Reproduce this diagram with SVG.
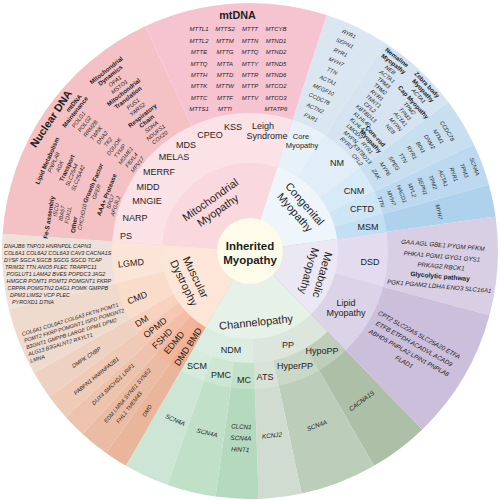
<svg xmlns="http://www.w3.org/2000/svg" width="500" height="500" viewBox="0 0 500 500">
<style>
text{font-family:'Liberation Sans',Arial,Helvetica,sans-serif;fill:#1e1e1e}
.g{font-style:italic;font-size:5.6px;text-anchor:middle}
.gc{font-style:italic;font-size:6.3px;text-anchor:middle}
.gs{font-style:italic;font-size:5.4px}
.gm{font-style:italic;font-size:6px;text-anchor:middle}
.gl{font-style:italic;font-size:6.2px;text-anchor:middle}
.h{font-weight:bold;font-size:6.2px;text-anchor:middle}
.s{font-size:9px;text-anchor:middle}
.s2{font-size:7.5px;text-anchor:middle}
.c{font-size:11px;text-anchor:middle}
.t{font-size:11.5px;font-weight:bold;text-anchor:middle}
.big{font-size:10.8px;font-weight:bold;text-anchor:middle}
</style>

<g id="muscular-dystrophy">
<path d="M250,251L126,465.8A248,248 0 0 1 106,452.9Z" fill="#e9b59b"/>
<path d="M250,251L106,452.9A248,248 0 0 1 82.5,433.9Z" fill="#ebbca4"/>
<path d="M250,251L82.5,433.9A248,248 0 0 1 65.7,416.9Z" fill="#edc3ad"/>
<path d="M250,251L65.7,416.9A248,248 0 0 1 49.4,396.8Z" fill="#eecab7"/>
<path d="M250,251L49.4,396.8A248,248 0 0 1 34.1,373.1Z" fill="#efd1c1"/>
<path d="M250,251L34.1,373.1A248,248 0 0 1 8.8,308.9Z" fill="#efdace"/>
<path d="M250,251L8.8,308.9A248,248 0 0 1 2.6,233.7Z" fill="#eee1d9"/>
<path d="M250,251L181,370.5A138,138 0 0 1 169.9,363.3Z" fill="#f0ad8f"/>
<path d="M250,251L169.9,363.3A138,138 0 0 1 156.8,352.7Z" fill="#f2b599"/>
<path d="M250,251L156.8,352.7A138,138 0 0 1 147.5,343.3Z" fill="#f4bea6"/>
<path d="M250,251L147.5,343.3A138,138 0 0 1 138.4,332.1Z" fill="#f6c8b2"/>
<path d="M250,251L138.4,332.1A138,138 0 0 1 129.9,319Z" fill="#f8d2bf"/>
<path d="M250,251L129.9,319A138,138 0 0 1 115.8,283.2Z" fill="#fadccb"/>
<path d="M250,251L115.8,283.2A138,138 0 0 1 112.3,241.4Z" fill="#fbe5d7"/>
<path d="M250,251L206,327.2A88,88 0 0 1 162.2,244.9Z" fill="#fde6d8"/>
<g class="s">
<text transform="rotate(-5.8 250 251)" x="130.4" y="254">LGMD</text>
<text transform="rotate(-22.6 250 251)" x="128" y="254">CMD</text>
<text transform="rotate(-33 250 251)" x="121" y="254">DM</text>
<text transform="rotate(-39 250 251)" x="128" y="254">OPMD</text>
<text transform="rotate(-45 250 251)" x="126" y="254">FSHD</text>
<text transform="rotate(-50.4 250 251)" x="131" y="254">EDMD</text>
<text transform="rotate(-57.1 250 251)" x="136" y="254">DMD BMD</text>
</g>
<g class="g">
<text transform="rotate(-33 250 251)" x="55" y="253">DMPK CNBP</text>
<text transform="rotate(-39.1 250 251)" x="52" y="253">PABPN1 HNRNPA2B1</text>
<text transform="rotate(-44.2 250 251)" x="59" y="253">DUX4 SMCHD1 LRIF1</text>
<text transform="rotate(-49.7 250 251)" x="60.3" y="253">EDM LMNA SYNE1 SYNE2</text>
<text transform="rotate(-52.3 250 251)" x="52.3" y="253">FHL1 TMEM43</text>
<text transform="rotate(-57.2 250 251)" x="60" y="253">DMD</text>
</g>
<g class="gs">
<text x="4" y="248.3">DNAJB6 TNPO3 HNRNPDL CAPN3</text>
<text x="4" y="255.2">COL6A1 COL6A2 COL6A3 CAV3 CACNA1S</text>
<text x="4" y="262.1">DYSF SGCA SGCB SGCG SGCD TCAP</text>
<text x="5" y="269">TRIM32 TTN ANO5 PLEC TRAPPC11</text>
<text x="6.5" y="275.9">POGLUT1 LAMA2 BVES POPDC3 JAG2</text>
<text x="6.5" y="282.8">HMGCR POMT1 POMT2 POMGNT1 FKRP</text>
<text x="7.5" y="289.7">CRPPA POMGTN2 DAG1 POMK GMPPB</text>
<text x="10" y="296.6">DPM3 LIMS2 VCP PLEC</text>
<text x="12" y="303.5">PYROXD1 DTNA</text>
</g>
<g class="gs" transform="translate(22,334) rotate(-17)">
<text x="0" y="2">COL6A1 COL6A2 COL6A3 FKTN POMT1</text>
<text x="0" y="9">POMT2 FKRP POMGNT1 ISPD POMGNT2</text>
<text x="0" y="16">B3GNT1 GMPPB LARGE DPM1 DPM2</text>
<text x="0" y="23">ALG13 B3GALNT2 RXYLT1</text>
<text x="0" y="30">LMNA</text>
</g>
<g class="c" transform="translate(190,280) rotate(64)">
<text x="0" y="-2.5">Muscular</text>
<text x="0" y="10.5">Dystrophy</text>
</g>
</g>

<g id="channelopathy">
<path d="M250,251L422.3,429.4A248,248 0 0 1 374,465.8Z" fill="#aebfa8"/>
<path d="M250,251L374,465.8A248,248 0 0 1 301.6,493.6Z" fill="#bccdb9"/>
<path d="M250,251L301.6,493.6A248,248 0 0 1 258.7,498.9Z" fill="#cfdccf"/>
<path d="M250,251L258.7,498.9A248,248 0 0 1 215.5,496.6Z" fill="#b4d9bc"/>
<path d="M250,251L215.5,496.6A248,248 0 0 1 167.2,484.8Z" fill="#c1e0c8"/>
<path d="M250,251L167.2,484.8A248,248 0 0 1 126,465.8Z" fill="#cce5d5"/>
<path d="M250,251L345.9,350.3A138,138 0 0 1 319,370.5Z" fill="#bfcdbb"/>
<path d="M250,251L319,370.5A138,138 0 0 1 278.7,386Z" fill="#cad8c7"/>
<path d="M250,251L278.7,386A138,138 0 0 1 254.8,388.9Z" fill="#d8e2d8"/>
<path d="M250,251L254.8,388.9A138,138 0 0 1 230.8,387.7Z" fill="#c3e1c9"/>
<path d="M250,251L230.8,387.7A138,138 0 0 1 203.9,381.1Z" fill="#cde7d2"/>
<path d="M250,251L203.9,381.1A138,138 0 0 1 181,370.5Z" fill="#d5ebdc"/>
<path d="M250,251L327.8,331.6A112,112 0 0 1 253.9,362.9Z" fill="#dde6dc"/>
<path d="M250,251L253.9,362.9A112,112 0 0 1 194,348Z" fill="#dbece0"/>
<path d="M250,251L311.1,314.3A88,88 0 0 1 206,327.2Z" fill="#e6f1e7"/>
<g class="s">
<text x="231" y="353">NDM</text>
<text x="288" y="348">PP</text>
<text x="322" y="354">HypoPP</text>
<text x="295" y="369">HyperPP</text>
<text x="265" y="380">ATS</text>
<text x="244" y="383">MC</text>
<text x="221" y="378">PMC</text>
<text x="197" y="369">SCM</text>
</g>
<g class="gc">
<text transform="rotate(23.9 250 251)" x="250" y="438">SCN4A</text>
<text transform="rotate(13.3 250 251)" x="250" y="440">SCN4A</text>
<g transform="rotate(2.8 250 251)">
<text x="250" y="429">CLCN1</text>
<text x="250" y="440.5">SCN4A</text>
<text x="250" y="452">HINT1</text>
</g>
<text transform="rotate(-6.8 250 251)" x="250" y="439">KCNJ2</text>
<text transform="rotate(-21 250 251)" x="250" y="440">SCN4A</text>
<text transform="rotate(-36.7 250 251)" x="250" y="440">CACNA1S</text>
</g>
<text class="c" transform="translate(256,322) rotate(-6)" x="0" y="4">Channelopathy</text>
</g>

<g id="metabolic-myopathy">
<path d="M250,251L495.6,216.5A248,248 0 0 1 489.5,315.2Z" fill="#d8cfe5"/>
<path d="M250,251L489.5,315.2A248,248 0 0 1 422.3,429.4Z" fill="#cbbfdb"/>
<path d="M250,251L386.7,231.8A138,138 0 0 1 383.3,286.7Z" fill="#e3dcee"/>
<path d="M250,251L383.3,286.7A138,138 0 0 1 345.9,350.3Z" fill="#dbd3e8"/>
<path d="M250,251L337.1,238.8A88,88 0 0 1 311.1,314.3Z" fill="#ebe7f3"/>
<g class="s">
<text x="370" y="265">DSD</text>
<text x="346" y="306">Lipid</text>
<text x="346" y="316">Myopathy</text>
</g>
<g class="gl" transform="translate(441,266) rotate(5)">
<text x="0" y="-18.8">GAA AGL GBE1 PYGM PFKM</text>
<text x="0" y="-7.5">PHKA1 PGM1 GYG1 GYS1</text>
<text x="0" y="2.5">PRKAG2 RBCK1</text>
<text x="0" y="12.6" style="font-style:normal;font-weight:bold;font-size:6.6px">Glycolytic pathway</text>
<text x="0" y="22.5">PGK1 PGAM2 LDHA ENO3 SLC16A1</text>
</g>
<g class="gl" transform="translate(378,312) rotate(29)">
<text x="47" y="2.2">CPT2 SLC22A5 SLC25A20 ETFA</text>
<text x="47" y="12.5">ETFB ETFDH ACADVL ACAD9</text>
<text x="47" y="22.8">ABHD5 PNPLA2 LPIN1 PNPLA8</text>
<text x="47" y="33.1">FLAD1</text>
</g>
<g class="c" transform="translate(316,273) rotate(106)">
<text x="0" y="-3">Metabolic</text>
<text x="0" y="11">Myopathy</text>
</g>
</g>

<g id="congenital-myopathy">
<path d="M250,251L326.6,15.1A248,248 0 0 1 385.1,43Z" fill="#dbe7f0"/>
<path d="M250,251L385.1,43A248,248 0 0 1 448.1,101.8Z" fill="#d5e4f0"/>
<path d="M250,251L448.1,101.8A248,248 0 0 1 473.8,144.2Z" fill="#c8dff0"/>
<path d="M250,251L473.8,144.2A248,248 0 0 1 489,184.7Z" fill="#bcd9ef"/>
<path d="M250,251L489,184.7A248,248 0 0 1 495.6,216.5Z" fill="#aed2ec"/>
<path d="M250,251L292.6,119.7A138,138 0 0 1 325.2,135.3Z" fill="#e6f1f9"/>
<path d="M250,251L325.2,135.3A138,138 0 0 1 360.2,168Z" fill="#e1eef8"/>
<path d="M250,251L360.2,168A138,138 0 0 1 374.6,191.6Z" fill="#d7eaf7"/>
<path d="M250,251L374.6,191.6A138,138 0 0 1 383,214.1Z" fill="#cde5f5"/>
<path d="M250,251L383,214.1A138,138 0 0 1 386.7,231.8Z" fill="#c2dff3"/>
<path d="M250,251L277.2,167.3A88,88 0 0 1 337.1,238.8Z" fill="#eef6fc"/>
<g class="s2">
<text x="301" y="138.5">Core</text>
<text x="302" y="147.5">Myopathy</text>
</g>
<g class="s">
<text x="337" y="166">NM</text>
<text x="354" y="194">CNM</text>
<text x="362" y="212">CFTD</text>
<text x="368" y="230">MSM</text>
</g>
<g class="g" transform="rotate(24.5 250 251)">
<text x="250" y="14.4">RYR1</text>
<text x="250" y="24.6">SEPN1</text>
<text x="250" y="34.8">RYR1</text>
<text x="250" y="45">MYH7</text>
<text x="250" y="55.2">TTN</text>
<text x="250" y="65.4">ACTA1</text>
<text x="250" y="75.6">MEGF10</text>
<text x="250" y="85.8">CCDC78</text>
<text x="250" y="96">ACTN2</text>
<text x="250" y="106.2">FXR1</text>
</g>
<text class="h" transform="rotate(37.2 250 251)" x="250" y="10.2">Nemaline</text>
<text class="h" transform="rotate(37.5 250 251)" x="250" y="17.2">Myopathy</text>
<g class="g">
<text transform="rotate(37.8 250 251)" x="250" y="24">NEB</text>
<text transform="rotate(38.2 250 251)" x="250" y="31">ACTA1</text>
<text transform="rotate(38.5 250 251)" x="250" y="38">TPM3</text>
<text transform="rotate(38.8 250 251)" x="250" y="45">TPM2</text>
<text transform="rotate(39.2 250 251)" x="250" y="52">RYR1</text>
<text transform="rotate(39.5 250 251)" x="250" y="59">TNNT1</text>
<text transform="rotate(39.8 250 251)" x="250" y="66">CFL2</text>
<text transform="rotate(40.2 250 251)" x="250" y="73">KBTBD13</text>
<text transform="rotate(40.5 250 251)" x="250" y="80">KLHL40</text>
<text transform="rotate(40.8 250 251)" x="250" y="87">KLHL41</text>
<text transform="rotate(41.2 250 251)" x="250" y="94">LMOD3</text>
<text transform="rotate(41.5 250 251)" x="250" y="101">MYPN</text>
<text transform="rotate(41.8 250 251)" x="250" y="108">RYR3</text>
</g>
<text class="h" transform="rotate(46.8 250 251)" x="250" y="10.2">Zebra body</text>
<text class="h" transform="rotate(47.2 250 251)" x="250" y="17.2">Myopathy</text>
<text class="g" transform="rotate(47.4 250 251)" x="250" y="24">ACTA1</text>
<text class="h" transform="rotate(47.7 250 251)" x="250" y="32.2">Cap Myopathy</text>
<g class="g">
<text transform="rotate(48.2 250 251)" x="250" y="39">TPM2</text>
<text transform="rotate(48.5 250 251)" x="250" y="46">TPM3</text>
<text transform="rotate(48.8 250 251)" x="250" y="53">ACTA1</text>
<text transform="rotate(49 250 251)" x="250" y="60">MYPN</text>
<text transform="rotate(49 250 251)" x="250" y="67">NEB</text>
</g>
<text class="h" transform="rotate(47.5 250 251)" x="250" y="83.2">Core-rod</text>
<text class="h" transform="rotate(47.8 250 251)" x="250" y="90.2">Myopathy</text>
<g class="g">
<text transform="rotate(48.6 250 251)" x="250" y="97">RYR1</text>
<text transform="rotate(49.2 250 251)" x="250" y="104.5">KBTBD13</text>
<text transform="rotate(49.6 250 251)" x="250" y="112">CFL2</text>
</g>
<g class="g" transform="rotate(58.7 250 251)">
<text x="250" y="22">CCDC78</text>
<text x="250" y="32.4">MTM1</text>
<text x="250" y="42.8">DNM2</text>
<text x="250" y="53.2">BIN1</text>
<text x="250" y="63.6">RYR1</text>
<text x="250" y="74">TTN</text>
<text x="250" y="84.4">SPEG</text>
<text x="250" y="94.8">MYF6</text>
<text x="250" y="105.2">ZAK</text>
</g>
<g class="g" transform="rotate(69.4 250 251)">
<text x="250" y="13">SCN4A</text>
<text x="250" y="24.1">TPM3</text>
<text x="250" y="35.2">RYR1</text>
<text x="250" y="46.3">ACTA1</text>
<text x="250" y="57.4">TPM2</text>
<text x="250" y="68.6">SEPN1</text>
<text x="250" y="79.7">MYL2</text>
<text x="250" y="90.8">HACD1</text>
<text x="250" y="101.9">MYH7</text>
<text x="250" y="113">TTN</text>
</g>
<text class="g" transform="rotate(78.3 250 251)" x="250" y="60">MYH7</text>
<g class="c" transform="translate(300,208) rotate(49)">
<text x="0" y="-2.5">Congenital</text>
<text x="0" y="10.5">Myopathy</text>
</g>
</g>

<g id="mitochondrial-myopathy">
<path d="M250,251L2.6,233.7A248,248 0 0 1 145.2,26.2Z" fill="#f4c2c4"/>
<path d="M250,251L145.2,26.2A248,248 0 0 1 326.6,15.1Z" fill="#f6c4d0"/>
<path d="M250,251L112.3,241.4A138,138 0 0 1 292.6,119.7Z" fill="#fbe2e7"/>
<path d="M250,251L162.2,244.9A88,88 0 0 1 277.2,167.3Z" fill="#f9d8de"/>
<g class="s">
<text x="126" y="239">PS</text>
<text x="135" y="221">NARP</text>
<text x="147" y="204">MNGIE</text>
<text x="148" y="190">MIDD</text>
<text x="159" y="175">MERRF</text>
<text x="174" y="160">MELAS</text>
<text x="186" y="148">MDS</text>
<text x="210" y="138">CPEO</text>
<text x="233" y="130">KSS</text>
<text x="263" y="129">Leigh</text>
<text x="267" y="139">Syndrome</text>
</g>
<text class="big" x="237.5" y="19">mtDNA</text>
<g class="gm">
<text x="199" y="31.4">MTTL1</text><text x="225" y="31.4">MTTS2</text><text x="250" y="31.4">MTTT</text><text x="276" y="31.4">MTCYB</text>
<text x="199" y="42.8">MTTL2</text><text x="225" y="42.8">MTTM</text><text x="250" y="42.8">MTTN</text><text x="276" y="42.8">MTND1</text>
<text x="199" y="54.2">MTTE</text><text x="225" y="54.2">MTTG</text><text x="250" y="54.2">MTTQ</text><text x="276" y="54.2">MTND2</text>
<text x="199" y="65.6">MTTQ</text><text x="225" y="65.6">MTTA</text><text x="250" y="65.6">MTTY</text><text x="276" y="65.6">MTND5</text>
<text x="199" y="77">MTTH</text><text x="225" y="77">MTTD</text><text x="250" y="77">MTTR</text><text x="276" y="77">MTND6</text>
<text x="199" y="88.4">MTTK</text><text x="225" y="88.4">MTTW</text><text x="250" y="88.4">MTTP</text><text x="276" y="88.4">MTCO2</text>
<text x="199" y="99.8">MTTC</text><text x="225" y="99.8">MTTF</text><text x="250" y="99.8">MTTV</text><text x="276" y="99.8">MTCO3</text>
<text x="199" y="111.2">MTTS1</text><text x="225" y="111.2">MTTI</text><text x="276" y="111.2">MTATP6</text>
</g>
<text class="big" transform="rotate(303.6 250 251)" x="250" y="15.8">Nuclear DNA</text>
<g transform="rotate(321.5 250 251)">
<text class="h" x="250" y="22.2">Mitochondrial</text>
<text class="h" x="250" y="28.7">Dynamics</text>
<text class="g" x="250" y="36">OPA1</text>
<text class="g" x="250" y="43">MSTO1</text>
<text class="h" x="250" y="50.2">Mitochondrial</text>
<text class="h" x="250" y="57.2">Translation</text>
<text class="g" x="250" y="65">PUS1</text>
<text class="g" x="250" y="72">YARS2</text>
<text class="h" x="250" y="80.2">Respiratory</text>
<text class="h" x="250" y="87.2">Chain</text>
<text class="g" x="250" y="94.5">SDHA</text>
<text class="g" x="250" y="101.5">NDUFS1</text>
<text class="g" x="250" y="108">COX20</text>
</g>
<text class="h" transform="rotate(310 250 251)" x="250" y="23.2">mtDNA</text>
<text class="h" transform="rotate(308.5 250 251)" x="250" y="29.7">Maintenance</text>
<g class="g" transform="rotate(307.5 250 251)">
<text x="250" y="37">POLG1</text>
<text x="250" y="44.4">POLG2</text>
<text x="250" y="51.8">RRM2B</text>
<text x="250" y="59.2">TWNK</text>
<text x="250" y="66.6">DNA2</text>
<text x="250" y="74">TK2</text>
<text x="250" y="81.4">DGUOK</text>
<text x="250" y="88.8">TYMP</text>
<text x="250" y="96.2">MGME1</text>
<text x="250" y="103.6">FBXL4</text>
<text x="250" y="111">MPV17</text>
</g>
<text class="h" transform="rotate(294 250 251)" x="250" y="31.2">Lipid Metabolism</text>
<text class="g" transform="rotate(294.3 250 251)" x="250" y="37.5">PNPLA8</text>
<text class="g" transform="rotate(294 250 251)" x="250" y="44.5">AGK</text>
<text class="h" transform="rotate(294.4 250 251)" x="250" y="52.2">Transport</text>
<text class="g" transform="rotate(293.1 250 251)" x="250" y="59">SLC25A4</text>
<text class="g" transform="rotate(293 250 251)" x="250" y="66">SLC25A42</text>
<text class="h" transform="rotate(293.4 250 251)" x="250" y="82.2">Growth Factor</text>
<text class="g" transform="rotate(291.1 250 251)" x="250" y="88.5">GFER</text>
<text class="h" transform="rotate(291.4 250 251)" x="250" y="99.2">AAA+ Protease</text>
<text class="g" transform="rotate(289.4 250 251)" x="250" y="105">SPG7</text>
<text class="g" transform="rotate(288.5 250 251)" x="250" y="111">AFG3L2</text>
<text class="h" transform="rotate(279.5 250 251)" x="250" y="49.2">Fe-S assembly</text>
<text class="g" transform="rotate(282 250 251)" x="250" y="54.5">ISCU</text>
<text class="g" transform="rotate(281.3 250 251)" x="250" y="61">IBA57</text>
<text class="g" transform="rotate(281.2 250 251)" x="250" y="67.5">FDX1L</text>
<text class="h" transform="rotate(278.5 250 251)" x="250" y="75.2">Other</text>
<text class="g" transform="rotate(281.5 250 251)" x="250" y="81.5">CHCHD10</text>
<g class="c" transform="translate(214,205) rotate(-35)">
<text x="0" y="-2.5">Mitochondrial</text>
<text x="0" y="10.5">Myopathy</text>
</g>
</g>

<g id="inherited-myopathy">
<circle cx="250" cy="251" r="33" fill="#fdfcea"/>
<text class="t" x="250" y="250">Inherited</text>
<text class="t" x="250" y="264">Myopathy</text>
</g>
</svg>
